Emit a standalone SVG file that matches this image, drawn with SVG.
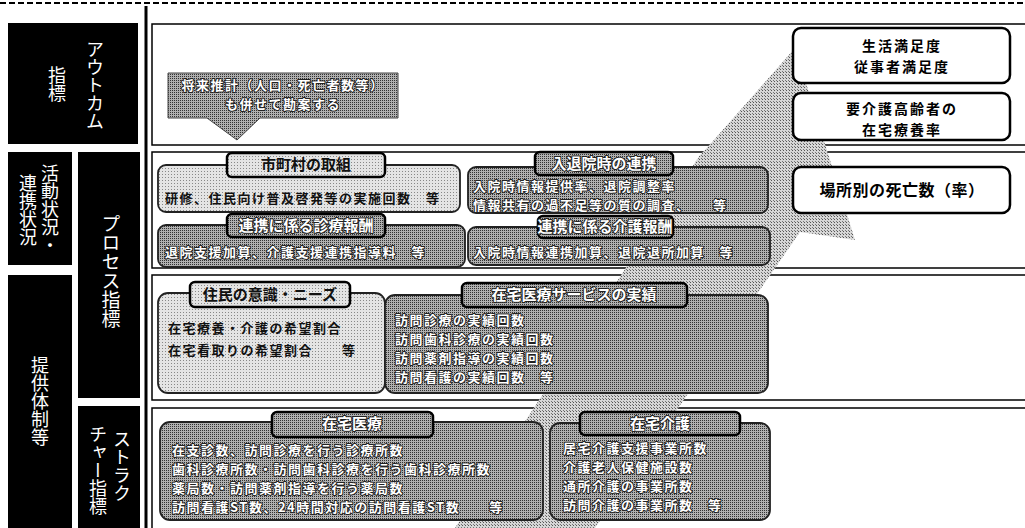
<svg xmlns="http://www.w3.org/2000/svg" width="1025" height="528" viewBox="0 0 1025 528">
<defs>
<pattern id="dotL" width="3" height="3" patternUnits="userSpaceOnUse"><rect width="3" height="3" fill="#e4e4e4"/><rect width="1" height="1" fill="#888"/></pattern>
<pattern id="dotD" width="2" height="2" patternUnits="userSpaceOnUse"><rect width="2" height="2" fill="#b0b0b0"/><rect width="1" height="1" fill="#333"/></pattern>
<pattern id="dotA" width="3" height="3" patternUnits="userSpaceOnUse"><rect width="3" height="3" fill="#d6d6d6"/><rect width="1" height="1" fill="#555"/><rect x="2" y="2" width="1" height="1" fill="#777"/></pattern>
</defs>
<style>
.side{fill:#000}
.vt{font-family:"Noto Sans CJK JP",sans-serif;fill:#fff;writing-mode:vertical-rl;font-size:18px}
.panel{fill:#fff;stroke:#000;stroke-width:1.5}
.light{fill:url(#dotL);stroke:#222;stroke-width:1.8}
.dark{fill:url(#dotD);stroke:#222;stroke-width:1.8}
.lab{stroke:#000;stroke-width:2.5}
.out{fill:#fff;stroke:#000;stroke-width:2.5}
.bt{font-family:"Noto Sans CJK JP",sans-serif;font-size:13px;font-weight:bold;letter-spacing:1.5px;fill:#111}
.wt{font-family:"Noto Sans CJK JP",sans-serif;font-size:13px;font-weight:bold;letter-spacing:1.5px;fill:#fff;stroke:#222;stroke-width:2;paint-order:stroke;stroke-linejoin:round}
.lt{font-family:"Noto Sans CJK JP",sans-serif;font-size:15px;font-weight:bold;text-anchor:middle;letter-spacing:0}
.ot{font-family:"Noto Sans CJK JP",sans-serif;font-size:14px;letter-spacing:2px;font-weight:bold;text-anchor:middle;fill:#000}
</style>
<line x1="0" y1="3" x2="1025" y2="3" stroke="#000" stroke-width="2" stroke-dasharray="6 3"/>
<line x1="146" y1="6" x2="146" y2="528" stroke="#000" stroke-width="3"/>

<g id="side-outcome"><rect class="side" x="8" y="23" width="130" height="121"/><text class="vt" x="95" y="40">アウトカム</text><text class="vt" x="57" y="66">指標</text></g>
<g id="side-activity"><rect class="side" x="8" y="152" width="64" height="113"/><text class="vt" x="50" y="164">活動状況・</text><text class="vt" x="28" y="174">連携状況</text></g>
<g id="side-process"><rect class="side" x="78" y="152" width="62" height="246"/><text class="vt" x="111" y="214" style="font-size:19px">プロセス指標</text></g>
<g id="side-supply"><rect class="side" x="8" y="275" width="64" height="253"/><text class="vt" x="40" y="356">提供体制等</text></g>
<g id="side-structure"><rect class="side" x="78" y="406" width="62" height="122"/><text class="vt" x="122" y="430">ストラク</text><text class="vt" x="98" y="425">チャー指標</text></g>

<g id="panels">
<rect class="panel" x="152" y="24" width="880" height="121"/>
<rect class="panel" x="152" y="152" width="880" height="116"/>
<rect class="panel" x="152" y="275" width="880" height="125"/>
<rect class="panel" x="152" y="408" width="880" height="125"/>
</g>

<g id="connectors">
<polygon points="455,528 700,155 705,150 795,48 855,240 800,232 595,528" fill="url(#dotA)"/>
</g>

<g id="callout">
<path d="M168,73 H398 V118 H260 L237,140 L207,118 H168 Z" fill="url(#dotD)" stroke="#444" stroke-width="1"/>
<text class="wt" text-anchor="middle"><tspan x="283" y="90">将来推計（人口・死亡者数等）</tspan><tspan x="283" y="109">も併せて勘案する</tspan></text>
</g>

<g id="out1"><rect class="out" x="793" y="28" width="217" height="55" rx="8"/><text class="ot"><tspan x="902" y="51">生活満足度</tspan><tspan x="902" y="72">従事者満足度</tspan></text></g>
<g id="out2"><rect class="out" x="793" y="93" width="217" height="47" rx="8"/><text class="ot"><tspan x="902" y="114">要介護高齢者の</tspan><tspan x="902" y="135">在宅療養率</tspan></text></g>
<g id="out3"><rect class="out" x="793" y="167" width="217" height="46" rx="8"/><text class="ot" x="902" y="196" style="font-size:16px;letter-spacing:0.5px">場所別の死亡数（率）</text></g>

<g id="municipal">
<rect class="light" x="158" y="165" width="302" height="47" rx="8"/>
<text class="bt" x="165" y="203">研修、住民向け普及啓発等の実施回数　等</text>
<rect class="light lab" x="227" y="153" width="158" height="24" rx="5"/>
<text class="lt" x="306" y="170" fill="#111">市町村の取組</text>
</g>
<g id="medfee">
<rect class="dark" x="158" y="225" width="307" height="42" rx="8"/>
<text class="wt" x="165" y="257">退院支援加算、介護支援連携指導料　等</text>
<rect class="dark lab" x="227" y="214" width="158" height="23" rx="5"/>
<text class="lt wt" x="306" y="231" style="font-size:15px;font-weight:bold;letter-spacing:0">連携に係る診療報酬</text>
</g>
<g id="admission">
<rect class="dark" x="468" y="167" width="300" height="46" rx="8"/>
<text class="wt"><tspan x="473" y="191">入院時情報提供率、退院調整率</tspan><tspan x="473" y="210">情報共有の過不足等の質の調査、　　等</tspan></text>
<rect class="dark lab" x="535" y="152" width="138" height="23" rx="5"/>
<text class="lt wt" x="604" y="169" style="font-size:15px;font-weight:bold;letter-spacing:0">入退院時の連携</text>
</g>
<g id="carefee">
<rect class="dark" x="468" y="227" width="302" height="38" rx="8"/>
<text class="wt" x="473" y="257">入院時情報連携加算、退院退所加算　等</text>
<rect class="dark lab" x="538" y="216" width="135" height="22" rx="5"/>
<text class="lt wt" x="605" y="232" style="font-size:15px;font-weight:bold;letter-spacing:0">連携に係る介護報酬</text>
</g>
<g id="residents">
<rect class="light" x="158" y="293" width="227" height="100" rx="10"/>
<text class="bt"><tspan x="168" y="333">在宅療養・介護の希望割合</tspan><tspan x="168" y="355">在宅看取りの希望割合　　等</tspan></text>
<rect class="light lab" x="190" y="282" width="160" height="25" rx="5"/>
<text class="lt" x="270" y="300" fill="#111">住民の意識・ニーズ</text>
</g>
<g id="homecare-service">
<rect class="dark" x="385" y="295" width="383" height="98" rx="10"/>
<text class="wt"><tspan x="395" y="325">訪問診療の実績回数</tspan><tspan x="395" y="344">訪問歯科診療の実績回数</tspan><tspan x="395" y="363">訪問薬剤指導の実績回数</tspan><tspan x="395" y="382">訪問看護の実績回数　等</tspan></text>
<rect class="dark lab" x="462" y="283" width="225" height="24" rx="5"/>
<text class="lt wt" x="574" y="300" style="font-size:15px;font-weight:bold;letter-spacing:0">在宅医療サービスの実績</text>
</g>
<g id="homemed">
<rect class="dark" x="160" y="422" width="383" height="98" rx="10"/>
<text class="wt"><tspan x="172" y="455">在支診数、訪問診療を行う診療所数</tspan><tspan x="172" y="474">歯科診療所数・訪問歯科診療を行う歯科診療所数</tspan><tspan x="172" y="493">薬局数・訪問薬剤指導を行う薬局数</tspan><tspan x="172" y="512">訪問看護ST数、24時間対応の訪問看護ST数　　等</tspan></text>
<rect class="dark lab" x="272" y="412" width="161" height="25" rx="5"/>
<text class="lt wt" x="352" y="429" style="font-size:15px;font-weight:bold;letter-spacing:0">在宅医療</text>
</g>
<g id="homenursing">
<rect class="dark" x="550" y="423" width="220" height="97" rx="10"/>
<text class="wt"><tspan x="563" y="453">居宅介護支援事業所数</tspan><tspan x="563" y="472">介護老人保健施設数</tspan><tspan x="563" y="491">通所介護の事業所数</tspan><tspan x="563" y="510">訪問介護の事業所数　等</tspan></text>
<rect class="dark lab" x="580" y="412" width="160" height="23" rx="5"/>
<text class="lt wt" x="660" y="429" style="font-size:15px;font-weight:bold;letter-spacing:0">在宅介護</text>
</g>
</svg>
